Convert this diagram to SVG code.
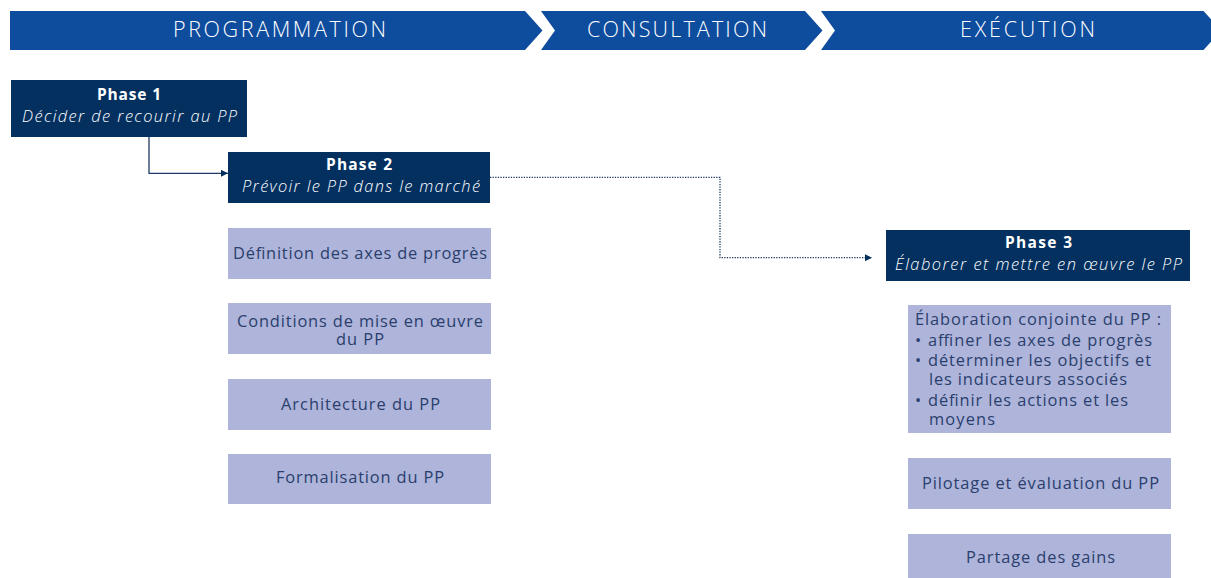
<svg xmlns="http://www.w3.org/2000/svg" width="1211" height="578" viewBox="0 0 1211 578">
<style>
.band{fill:#0e4c9e}
.btxt{font-family:"Open Sans","Liberation Sans",sans-serif;font-size:21.5px;fill:#ffffff;text-anchor:middle;font-weight:300}
.dark{fill:#03305f}
.light{fill:#aeb4da}
.ph{font-family:"Open Sans","Liberation Sans",sans-serif;font-size:15.5px;font-weight:700;fill:#ffffff;text-anchor:middle}
.pi{font-family:"Open Sans","Liberation Sans",sans-serif;font-size:16.4px;font-style:italic;fill:#ffffff;text-anchor:middle;font-weight:300}
.lt{font-family:"Open Sans","Liberation Sans",sans-serif;font-size:16.4px;fill:#2a3f6d;text-anchor:middle;font-weight:400}
.ll{font-family:"Open Sans","Liberation Sans",sans-serif;font-size:16.4px;fill:#2a3f6d;font-weight:400}
.conn{fill:none;stroke:#1f3a66;stroke-width:1.3}
.dot{fill:none;stroke:#1f3a66;stroke-width:1.3;stroke-dasharray:1.3 1.3}
</style>
<defs>
<marker id="ah" viewBox="0 0 10 10" refX="10" refY="5" markerWidth="7" markerHeight="7" markerUnits="userSpaceOnUse" orient="auto">
<path d="M0,0 L10,5 L0,10 z" fill="#03305f"/>
</marker>
</defs>

<g id="banner">
<path class="band" d="M10,11 H525 L542.5,30.5 L525,50 H10 Z"/>
<path class="band" d="M541,11 H805 L822.5,30.5 L805,50 H541 L555,30.5 Z"/>
<path class="band" d="M821,11 H1203.5 L1221,30.5 L1203.5,50 H821 L835,30.5 Z"/>
<text class="btxt" x="279.5" y="37" textLength="213" lengthAdjust="spacing">PROGRAMMATION</text>
<text class="btxt" x="677" y="37" textLength="180" lengthAdjust="spacing">CONSULTATION</text>
<text class="btxt" x="1027.5" y="37" textLength="135" lengthAdjust="spacing">EXÉCUTION</text>
</g>

<g id="connectors">
<path class="conn" d="M149,137 V173.3 H228" marker-end="url(#ah)"/>
<path class="dot" d="M490,177.3 H720 V257.7 H872" marker-end="url(#ah)"/>
</g>

<g id="phase1">
<rect class="dark" x="11" y="80" width="236" height="57"/>
<text class="ph" x="129" y="100" textLength="64" lengthAdjust="spacing">Phase 1</text>
<text class="pi" x="129.5" y="122" textLength="215" lengthAdjust="spacing">Décider de recourir au PP</text>
</g>

<g id="phase2">
<rect class="dark" x="228" y="152" width="262" height="51"/>
<text class="ph" x="359" y="170" textLength="66" lengthAdjust="spacing">Phase 2</text>
<text class="pi" x="361" y="192" textLength="238" lengthAdjust="spacing">Prévoir le PP dans le marché</text>
</g>

<g id="axes">
<rect class="light" x="228" y="228" width="263" height="51"/>
<text class="lt" x="360" y="259" textLength="254" lengthAdjust="spacing">Définition des axes de progrès</text>
</g>

<g id="conditions">
<rect class="light" x="228" y="303" width="263" height="51"/>
<text class="lt" x="360" y="327" textLength="246" lengthAdjust="spacing">Conditions de mise en œuvre</text>
<text class="lt" x="360" y="345" textLength="48" lengthAdjust="spacing">du PP</text>
</g>

<g id="architecture">
<rect class="light" x="228" y="379" width="263" height="51"/>
<text class="lt" x="360.5" y="410" textLength="159" lengthAdjust="spacing">Architecture du PP</text>
</g>

<g id="formalisation">
<rect class="light" x="228" y="454" width="263" height="50"/>
<text class="lt" x="360" y="483" textLength="168" lengthAdjust="spacing">Formalisation du PP</text>
</g>

<g id="phase3">
<rect class="dark" x="886" y="230" width="304" height="51"/>
<text class="ph" x="1038.5" y="248" textLength="67" lengthAdjust="spacing">Phase 3</text>
<text class="pi" x="1038.5" y="270" textLength="287" lengthAdjust="spacing">Élaborer et mettre en œuvre le PP</text>
</g>

<g id="elaboration">
<rect class="light" x="908" y="305" width="263" height="128"/>
<text class="ll" x="915" y="325" textLength="246" lengthAdjust="spacing">Élaboration conjointe du PP :</text>
<text class="ll" x="915" y="346">•</text>
<text class="ll" x="928" y="346" textLength="224" lengthAdjust="spacing">affiner les axes de progrès</text>
<text class="ll" x="915" y="366">•</text>
<text class="ll" x="928" y="366" textLength="223" lengthAdjust="spacing">déterminer les objectifs et</text>
<text class="ll" x="929" y="385" textLength="198" lengthAdjust="spacing">les indicateurs associés</text>
<text class="ll" x="915" y="406">•</text>
<text class="ll" x="928" y="406" textLength="200" lengthAdjust="spacing">définir les actions et les</text>
<text class="ll" x="929" y="425" textLength="66" lengthAdjust="spacing">moyens</text>
</g>

<g id="pilotage">
<rect class="light" x="908" y="458" width="263" height="51"/>
<text class="lt" x="1040.5" y="489" textLength="237" lengthAdjust="spacing">Pilotage et évaluation du PP</text>
</g>

<g id="partage">
<rect class="light" x="908" y="534" width="263" height="44"/>
<text class="lt" x="1040.5" y="563" textLength="149" lengthAdjust="spacing">Partage des gains</text>
</g>
</svg>
